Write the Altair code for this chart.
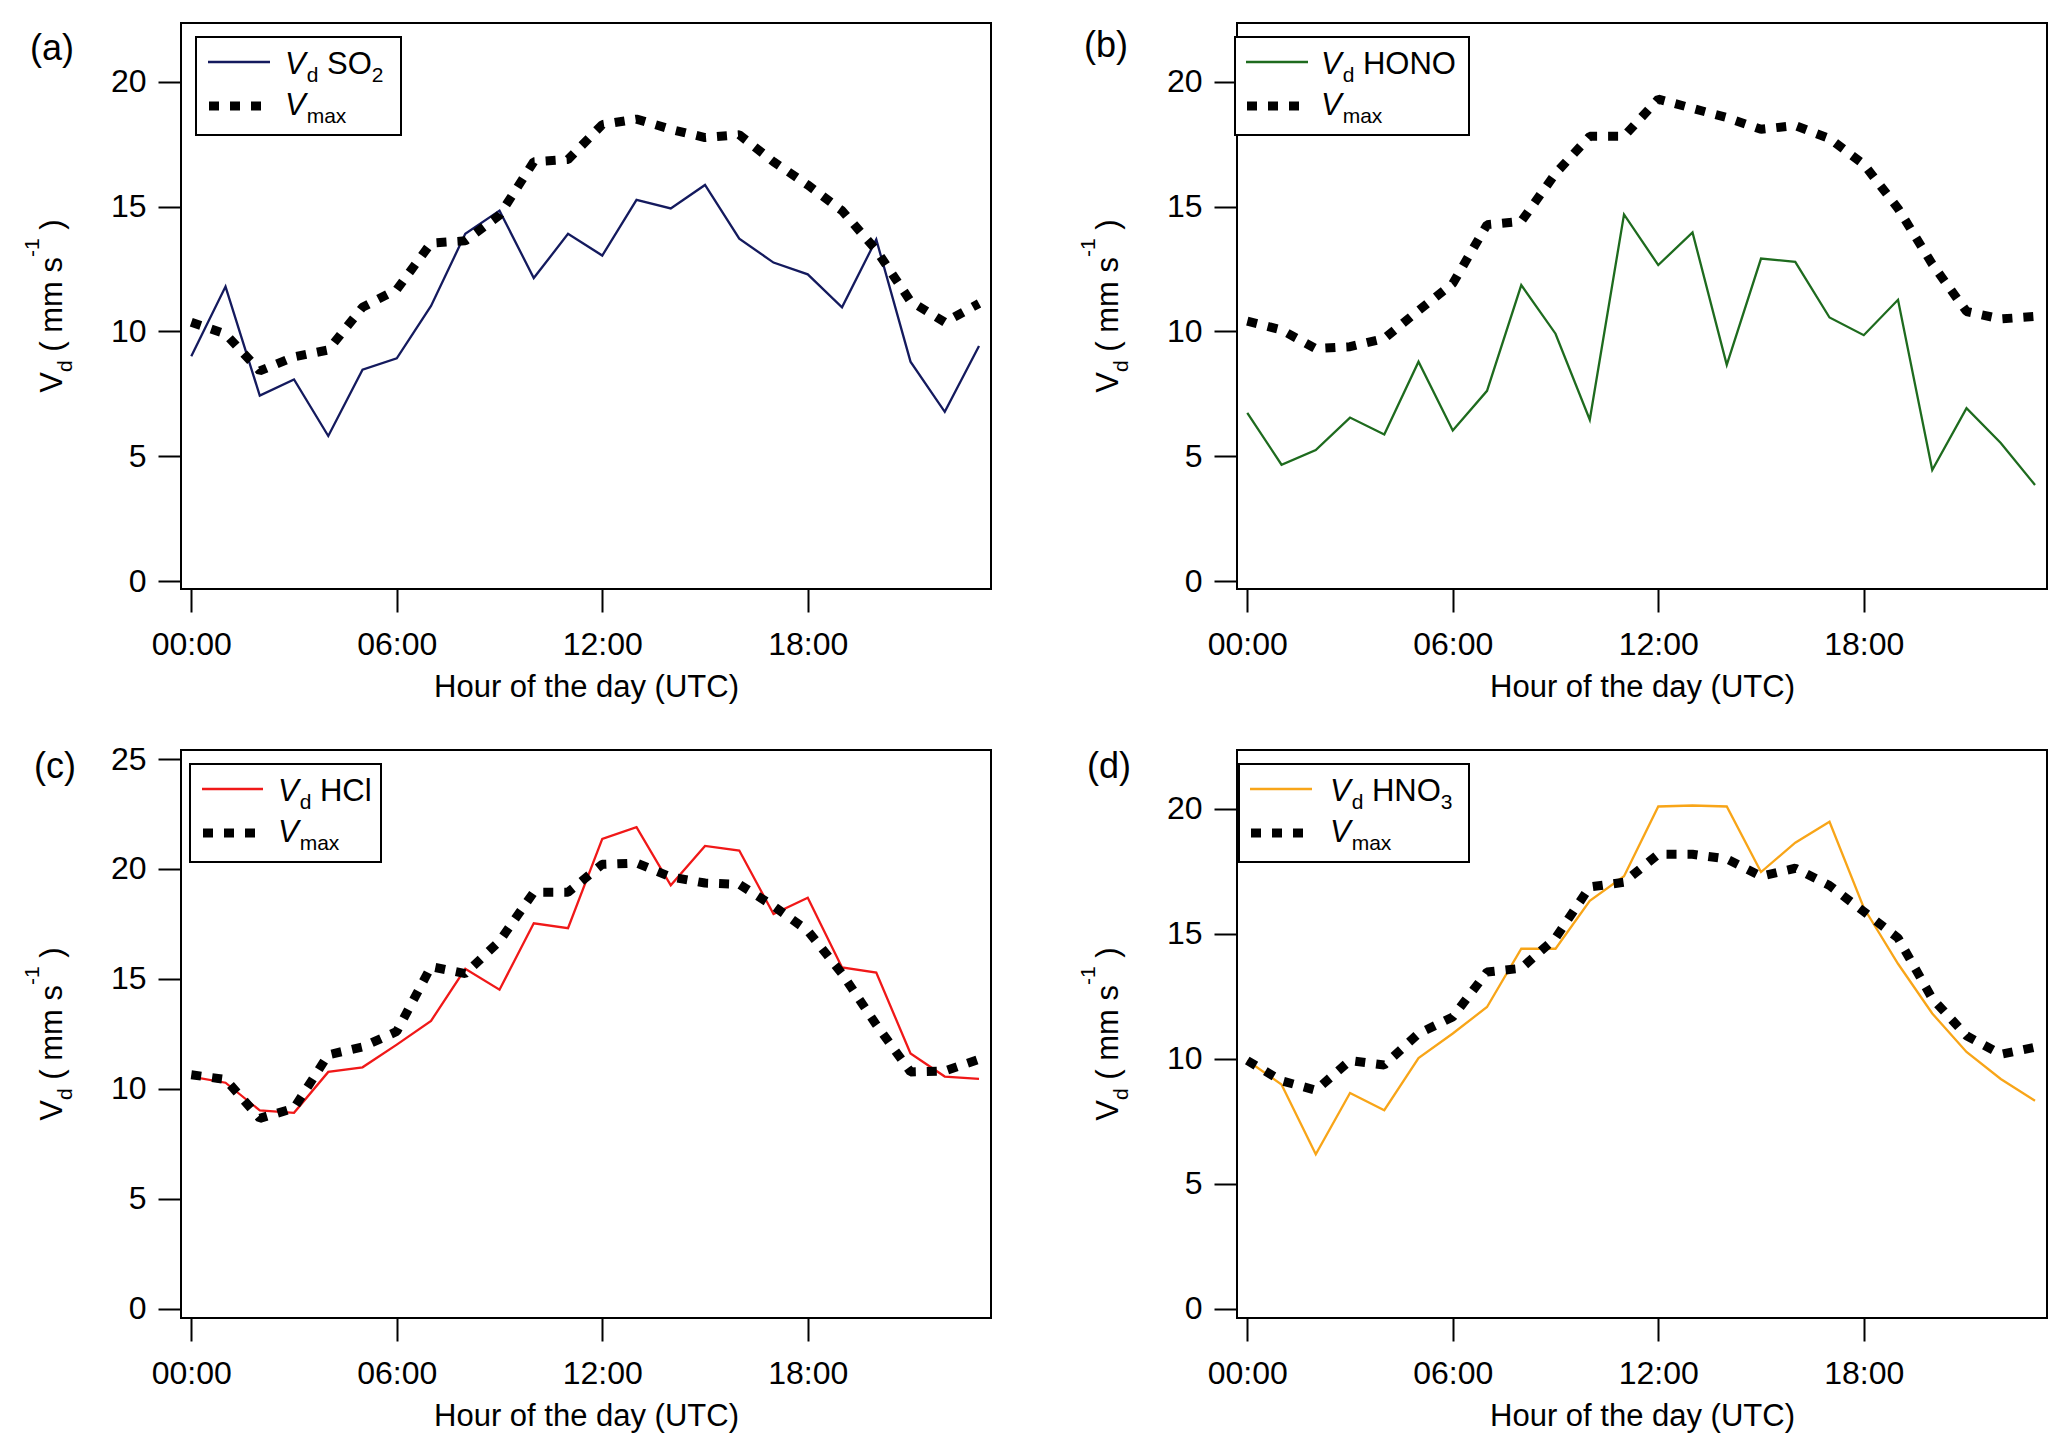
import altair as alt
import pandas as pd

hours = list(range(24))

vd_so2 = [9.01, 11.8, 7.43, 8.08, 5.81, 8.47, 8.92, 11.02, 13.91, 14.84, 12.14, 13.91,
          13.04, 15.27, 14.93, 15.87, 13.72, 12.76, 12.29, 10.97, 13.69, 8.79, 6.78, 9.42]
vmax_a = [10.37, 9.9, 8.42, 8.98, 9.26, 10.97, 11.68, 13.54, 13.63, 14.66, 16.8, 16.89,
          18.29, 18.51, 18.1, 17.77, 17.88, 16.8, 15.87, 14.84, 13.26, 11.21, 10.37, 11.12]

vd_hono = [6.74, 4.66, 5.25, 6.55, 5.87, 8.79, 6.03, 7.62, 11.86, 9.91, 6.46, 14.69,
           12.66, 13.97, 8.66, 12.92, 12.79, 10.56, 9.85, 11.27, 4.45, 6.93, 5.53, 3.85]
vmax_b = [10.41, 10.06, 9.31, 9.39, 9.72, 10.84, 11.92, 14.28, 14.41, 16.33, 17.82, 17.82,
          19.31, 18.94, 18.57, 18.1, 18.25, 17.73, 16.7, 14.93, 12.7, 10.8, 10.5, 10.6]

vd_hcl = [10.56, 10.28, 9.02, 8.91, 10.77, 10.98, 12.01, 13.09, 15.46, 14.51, 17.53, 17.31,
          21.37, 21.9, 19.26, 21.05, 20.84, 17.95, 18.69, 15.52, 15.29, 11.61, 10.56, 10.45]
vmax_c = [10.64, 10.43, 8.66, 9.12, 11.55, 11.91, 12.61, 15.56, 15.24, 16.72, 18.94, 18.94,
          20.21, 20.27, 19.64, 19.36, 19.3, 18.31, 17.19, 15.24, 12.92, 10.77, 10.81, 11.34]

vd_hno3 = [9.93, 8.97, 6.18, 8.63, 7.94, 10.03, 11.01, 12.07, 14.4, 14.4, 16.32, 17.3,
           20.09, 20.13, 20.09, 17.47, 18.64, 19.48, 16.04, 13.8, 11.81, 10.27, 9.19, 8.32]
vmax_d = [9.93, 9.12, 8.74, 9.93, 9.75, 11.01, 11.67, 13.47, 13.62, 14.83, 16.87, 17.06,
          18.18, 18.18, 17.99, 17.3, 17.62, 16.93, 15.89, 14.83, 12.41, 10.92, 10.18, 10.46]

x_ticks = [0, 6, 12, 18]
y_ticks_20 = [0, 5, 10, 15, 20]
y_ticks_25 = [0, 5, 10, 15, 20, 25]

FONT = "Liberation Sans"
W = {'V': 667, 'd': 556, ' ': 278, 'S': 667, 'O': 778, 'H': 722, 'N': 722, 'C': 722,
     'l': 222, '2': 556, '3': 556, 'm': 833, 'a': 556, 'x': 500, '(': 333, ')': 333,
     's': 500, '-': 333, '1': 556}


def tw(s, size):
    return sum(W[c] for c in s) / 1000.0 * size


ONE = pd.DataFrame({"k": [0]})


def txt(text, x, y, size, italic=False, angle=0, align="left", baseline="alphabetic"):
    kw = dict(text=text, font=FONT, fontSize=size, color="black", align=align, baseline=baseline)
    if italic:
        kw["fontStyle"] = "italic"
    if angle:
        kw["angle"] = angle
    return alt.Chart(ONE).mark_text(**kw).encode(x=alt.value(x), y=alt.value(y))


def panel(tag, tag_pos, name, name_sub, color, vd, vmax, ydomain, yticks, H, leg):
    df = pd.DataFrame({"hour": hours + hours, "value": vd + vmax,
                       "series": ["vd"] * 24 + ["vmax"] * 24})
    x = alt.X("hour:Q", scale=alt.Scale(domain=[-0.3, 23.35], nice=False, zero=False),
              axis=alt.Axis(values=x_ticks, title="Hour of the day (UTC)",
                            labelExpr="(datum.value < 10 ? '0' : '') + datum.value + ':00'"))
    y = alt.Y("value:Q", scale=alt.Scale(domain=ydomain, nice=False, zero=False),
              axis=alt.Axis(values=yticks, title=None))
    base = alt.Chart(df)
    vd_line = base.transform_filter(alt.datum.series == "vd").mark_line(
        color=color, strokeWidth=2.3).encode(x=x, y=y)
    vmax_line = base.transform_filter(alt.datum.series == "vmax").mark_line(
        color="black", strokeWidth=9, strokeDash=[10, 11], strokeCap="butt",
        strokeJoin="bevel").encode(x=x, y=y)

    layers = [vd_line, vmax_line]

    # legend box
    bx1, bx2, lx1, lx2, tx = leg
    layers.append(alt.Chart(ONE).mark_rect(fill="white", stroke="black", strokeWidth=2).encode(
        x=alt.value(bx1), x2=alt.value(bx2), y=alt.value(14), y2=alt.value(112)))
    layers.append(alt.Chart(ONE).mark_rule(color=color, strokeWidth=2.3).encode(
        x=alt.value(lx1), x2=alt.value(lx2), y=alt.value(39)))
    layers.append(alt.Chart(ONE).mark_rule(color="black", strokeWidth=9, strokeDash=[10, 11],
                                           strokeCap="butt").encode(
        x=alt.value(lx1 + 1), x2=alt.value(lx1 + 53), y=alt.value(83)))
    # legend row 1
    layers.append(txt("V", tx, 51, 31, italic=True))
    dx = tx + tw("V", 31) + 1
    layers.append(txt("d", dx, 59, 21))
    nx = dx + tw("d", 21) + tw(" ", 31)
    layers.append(txt(name, nx, 51, 31))
    if name_sub:
        layers.append(txt(name_sub, nx + tw(name, 31), 59, 21))
    # legend row 2
    layers.append(txt("V", tx, 92, 31, italic=True))
    layers.append(txt("max", dx, 100, 21))

    # y-axis title (rotated)
    L = tw("V", 31) + tw("d", 21) + tw(" ( mm s", 31) + tw("-1", 21) + tw(" )", 31)
    s0 = H / 2 + L / 2
    layers.append(txt("V", -119, s0, 31, angle=270))
    s1 = s0 - tw("V", 31)
    layers.append(txt("d", -109, s1, 21, angle=270))
    s2 = s1 - tw("d", 21) - tw(" ", 31)
    layers.append(txt("( mm s", -119, s2, 31, angle=270))
    s3 = s2 - tw("( mm s", 31)
    layers.append(txt("-1", -142, s3, 21, angle=270))
    s4 = s3 - tw("-1", 21) - tw(" ", 31)
    layers.append(txt(")", -119, s4, 31, angle=270))

    # panel tag
    layers.append(txt(tag, tag_pos[0], tag_pos[1], 36, align="center", baseline="middle"))

    return alt.layer(*layers).properties(width=810, height=H)


pa = panel("(a)", (-129, 26), "SO", "2", "#141a5e", vd_so2, vmax_a, [-0.32, 22.36],
           y_ticks_20, 566, (15, 220, 27, 89, 104))
pb = panel("(b)", (-131, 23), "HONO", "", "#1e6b1e", vd_hono, vmax_b, [-0.32, 22.36],
           y_ticks_20, 566, (-2, 232, 9, 71, 84))
pc = panel("(c)", (-126, 17), "HCl", "", "#f01818", vd_hcl, vmax_c, [-0.42, 25.41],
           y_ticks_25, 568, (9, 200, 21, 82, 97))
pd_ = panel("(d)", (-128, 17), "HNO", "3", "#f8a518", vd_hno3, vmax_d, [-0.37, 22.35],
            y_ticks_20, 568, (2, 232, 13, 75, 93))

chart = alt.concat(pa, pb, pc, pd_, columns=2, spacing={"row": 161, "column": 246},
                   bounds="flush").properties(
    padding={"left": 12, "top": 14, "right": 5, "bottom": 5}
).configure(font=FONT).configure_view(
    stroke="black", strokeWidth=2
).configure_axis(
    labelFont=FONT, labelFontSize=32, labelColor="black", labelFlush=False,
    tickColor="black", tickWidth=2, tickSize=23, domain=False, grid=False,
    titleFont=FONT, titleFontSize=31, titleFontWeight="normal", titleColor="black"
).configure_axisX(
    labelPadding=17, titlePadding=12
).configure_axisY(
    labelPadding=12
)

chart.save("out.html", embed_options={"renderer": "svg", "actions": False})
